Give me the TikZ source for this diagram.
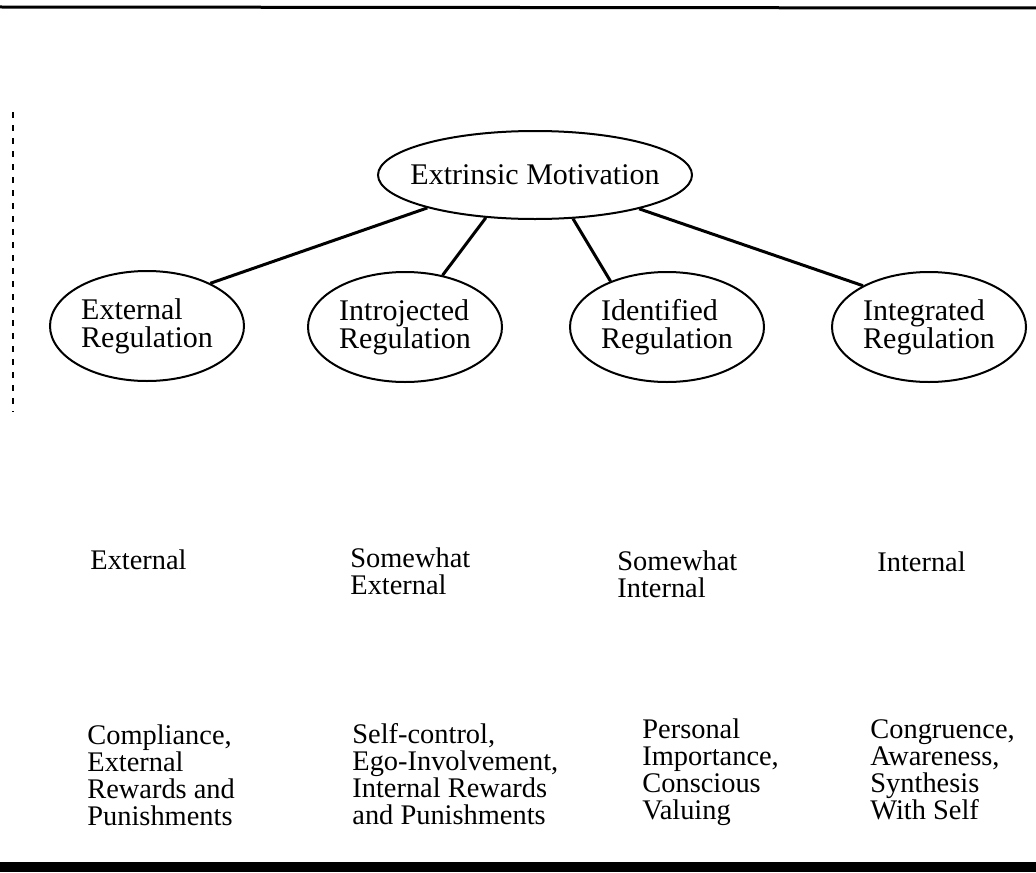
\documentclass[tikz,border=0pt]{standalone}
\usepackage{fontspec}
\setmainfont{Liberation Serif}
\usetikzlibrary{shapes.geometric}
\newcommand\tightlines{\lineskiplimit=-20pt\relax}

\begin{document}
\begin{tikzpicture}[x=0.5pt, y=-0.5pt,
  regbox/.style={draw, ellipse, line width=1pt, inner xsep=-40pt, inner ysep=-20pt, minimum width=97pt, minimum height=55pt, align=left, font=\fontsize{15}{14}\selectfont\tightlines},
  labtext/.style={anchor=west, align=left, inner sep=0pt, font=\fontsize{14.2}{13.5}\selectfont\tightlines},
  link/.style={line width=1.5pt}]
  \useasboundingbox (0,0) rectangle (1036,872);

  % page rules
  \draw[line width=1.5pt] (0,7) -- (1036,8);
  \fill (0,862) rectangle (1036,872);
  \draw[line width=1.3pt, dash pattern=on 3.2pt off 3.3pt] (13,112) -- (13,412);

  % Extrinsic motivation and its regulations
  \node[regbox, minimum width=157pt, minimum height=44pt] (EM) at (535,175) {Extrinsic Motivation};
  \node[regbox] (ExtReg) at (147,326) {External\\Regulation};
  \node[regbox] (IntroReg) at (405,327) {Introjected\\Regulation};
  \node[regbox] (IdentReg) at (667,327) {Identified\\Regulation};
  \node[regbox] (IntegReg) at (929,327) {Integrated\\Regulation};

  \draw[link] (EM.197) -- (ExtReg.34);
  \draw[link] (EM.221) -- (IntroReg.54);
  \draw[link] (EM.311) -- (IdentReg.141);
  \draw[link] (EM.342) -- (IntegReg.148);

  % perceived locus of causality
  \node[labtext] (Loc1) at (90,560) {External};
  \node[labtext] (Loc2) at (350,571) {Somewhat\\External};
  \node[labtext] (Loc3) at (617,574) {Somewhat\\Internal};
  \node[labtext] (Loc4) at (877,562) {Internal};

  % relevant regulatory processes
  \node[labtext] (Proc1) at (87,775) {Compliance,\\External\\Rewards and\\Punishments};
  \node[labtext] (Proc2) at (352,774) {Self-control,\\Ego-Involvement,\\Internal Rewards\\and Punishments};
  \node[labtext] (Proc3) at (642,772) {Personal\\Importance,\\Conscious\\Valuing};
  \node[labtext] (Proc4) at (870,770) {Congruence,\\Awareness,\\Synthesis\\With Self};
\end{tikzpicture}
\end{document}
